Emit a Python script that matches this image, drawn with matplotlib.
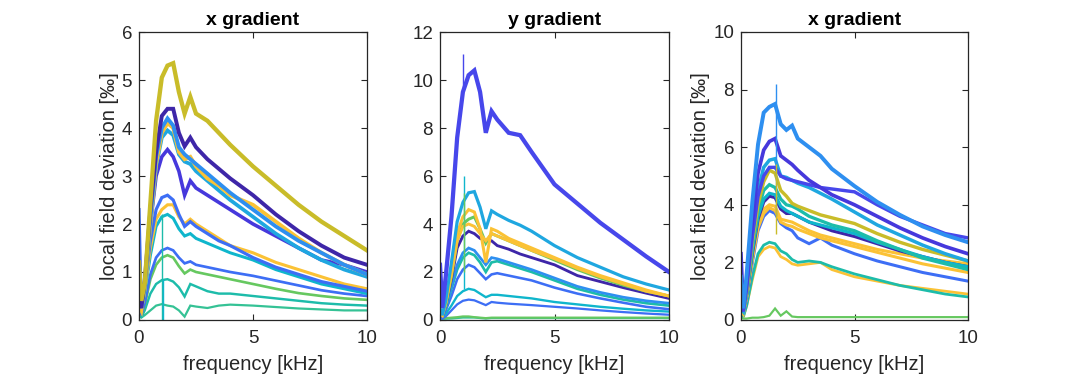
import matplotlib
matplotlib.use("Agg")
import matplotlib.pyplot as plt

plt.rcParams['font.family'] = ['Liberation Sans', 'DejaVu Sans']

# frequency grid (kHz) at which curve values were read
freq = [0, 0.1, 0.25, 0.5, 0.75, 1.0, 1.25, 1.5, 1.75, 2.0, 2.25, 2.5,
        3.0, 3.5, 4.0, 5.0, 6.0, 7.0, 8.0, 9.0, 10.0]

titles = ["x gradient", "y gradient", "x gradient"]
xlabel = "frequency [kHz]"
ylabel = "local field deviation [‰]"

# ---- panel 1 (x gradient) ----
p1_olive   = [1.2, 0.4, 0.75, 2.45, 4.15, 5.05, 5.3, 5.35, 4.75, 4.3, 4.65, 4.3, 4.15, 3.9, 3.65, 3.2, 2.8, 2.4, 2.05, 1.75, 1.45]
p1_purple  = [0.4, 0.25, 0.8, 2.3, 3.5, 4.25, 4.4, 4.4, 3.9, 3.62, 3.8, 3.6, 3.35, 3.15, 2.95, 2.6, 2.2, 1.85, 1.55, 1.3, 1.15]
p1_ltblue  = [0.5, 0.25, 0.7, 2.1, 3.4, 4.0, 4.2, 4.05, 3.6, 3.45, 3.35, 3.25, 3.05, 2.85, 2.65, 2.3, 1.95, 1.65, 1.4, 1.15, 0.95]
p1_cyblue  = [0.3, 0.2, 0.7, 2.0, 3.2, 3.8, 3.95, 3.85, 3.45, 3.3, 3.25, 3.1, 2.9, 2.7, 2.5, 2.15, 1.8, 1.5, 1.25, 1.05, 0.9]
p1_orange1 = [0.3, 0.2, 0.7, 2.0, 3.25, 3.9, 4.1, 4.0, 3.5, 3.35, 3.4, 3.2, 2.95, 2.8, 2.6, 2.4, 2.05, 1.7, 1.4, 1.15, 0.95]
p1_blue    = [0.5, 0.3, 0.8, 2.0, 3.0, 3.4, 3.55, 3.4, 3.1, 2.6, 2.9, 2.75, 2.6, 2.45, 2.3, 2.0, 1.75, 1.5, 1.25, 1.15, 1.0]
p1_royal   = [2.3, 0.3, 0.7, 1.65, 2.3, 2.55, 2.6, 2.5, 2.2, 1.95, 2.05, 1.95, 1.8, 1.65, 1.55, 1.3, 1.1, 0.95, 0.8, 0.7, 0.6]
p1_orange2 = [1.2, 0.2, 0.6, 1.5, 2.1, 2.3, 2.4, 2.4, 2.15, 2.0, 2.1, 2.0, 1.85, 1.7, 1.55, 1.4, 1.2, 1.05, 0.9, 0.75, 0.65]
p1_cyan    = [0.5, 0.2, 0.55, 1.35, 1.95, 2.15, 2.2, 2.12, 1.9, 1.75, 1.8, 1.7, 1.6, 1.5, 1.4, 1.25, 1.05, 0.9, 0.75, 0.65, 0.55]
p1_blue2   = [0.6, 0.1, 0.35, 0.95, 1.3, 1.45, 1.5, 1.45, 1.3, 1.18, 1.22, 1.15, 1.1, 1.05, 1.0, 0.92, 0.82, 0.72, 0.62, 0.55, 0.5]
p1_green   = [0.3, 0.1, 0.3, 0.85, 1.15, 1.3, 1.35, 1.3, 1.12, 0.97, 1.05, 1.0, 0.95, 0.9, 0.85, 0.75, 0.65, 0.56, 0.5, 0.45, 0.42]
p1_teal    = [0.2, 0.05, 0.2, 0.55, 0.75, 0.83, 0.85, 0.8, 0.68, 0.49, 0.75, 0.7, 0.6, 0.55, 0.55, 0.5, 0.45, 0.4, 0.35, 0.32, 0.3]
p1_tgreen  = [0.1, 0.05, 0.1, 0.2, 0.3, 0.33, 0.3, 0.28, 0.2, 0.07, 0.3, 0.28, 0.25, 0.3, 0.32, 0.3, 0.27, 0.24, 0.22, 0.2, 0.2]

# ---- panel 2 (y gradient) ----
p2_blue    = [2.3, 0.5, 1.8, 4.3, 7.6, 9.5, 10.2, 10.4, 9.5, 7.8, 8.7, 8.35, 7.8, 7.7, 7.0, 5.65, 4.85, 4.05, 3.35, 2.65, 2.0]
p2_cyblue  = [0.5, 0.2, 0.8, 2.4, 4.1, 4.9, 5.3, 5.35, 4.7, 3.8, 4.55, 4.4, 4.15, 3.95, 3.7, 3.1, 2.6, 2.2, 1.8, 1.5, 1.25]
p2_orange1 = [0.3, 0.2, 0.7, 2.0, 3.6, 4.3, 4.6, 4.5, 3.8, 2.4, 3.8, 3.7, 3.4, 3.2, 3.0, 2.6, 2.2, 1.85, 1.55, 1.25, 1.0]
p2_orange2 = [0.3, 0.2, 0.7, 1.9, 3.3, 3.9, 4.0, 3.9, 3.6, 3.3, 3.6, 3.5, 3.3, 3.1, 2.9, 2.55, 2.15, 1.8, 1.5, 1.2, 1.0]
p2_green   = [0.2, 0.2, 0.6, 1.8, 3.3, 4.0, 4.2, 4.3, 3.8, 3.2, 3.6, 3.5, 3.3, 3.1, 2.9, 2.5, 2.1, 1.75, 1.45, 1.2, 1.0]
p2_purple  = [0.3, 0.2, 0.6, 1.7, 3.0, 3.5, 3.7, 3.6, 3.4, 3.3, 3.3, 3.1, 2.95, 2.75, 2.6, 2.3, 1.85, 1.6, 1.35, 1.12, 0.9]
p2_ltblue  = [0.4, 0.2, 0.5, 1.4, 2.3, 2.8, 3.0, 2.9, 2.6, 2.3, 2.6, 2.55, 2.4, 2.25, 2.1, 1.75, 1.4, 1.15, 0.95, 0.8, 0.7]
p2_teal    = [0.3, 0.2, 0.5, 1.3, 2.1, 2.6, 2.8, 2.7, 2.4, 2.0, 2.4, 2.45, 2.3, 2.15, 2.0, 1.65, 1.3, 1.05, 0.85, 0.7, 0.6]
p2_royal   = [0.3, 0.1, 0.4, 1.0, 1.7, 2.1, 2.3, 2.2, 1.95, 1.7, 1.9, 1.95, 1.85, 1.75, 1.65, 1.35, 1.1, 0.9, 0.72, 0.55, 0.45]
p2_cyan    = [0.2, 0.1, 0.25, 0.6, 1.0, 1.2, 1.3, 1.25, 1.1, 0.95, 1.05, 1.05, 1.0, 0.95, 0.9, 0.75, 0.65, 0.55, 0.47, 0.4, 0.35]
p2_blue2   = [0.1, 0.05, 0.15, 0.4, 0.65, 0.8, 0.85, 0.82, 0.72, 0.62, 0.75, 0.72, 0.68, 0.65, 0.62, 0.55, 0.48, 0.4, 0.33, 0.27, 0.22]
p2_green2  = [0.1, 0.05, 0.08, 0.1, 0.12, 0.15, 0.15, 0.12, 0.1, 0.08, 0.1, 0.1, 0.1, 0.1, 0.1, 0.1, 0.1, 0.1, 0.1, 0.1, 0.1]
p2_tgreen  = [0.05, 0.03, 0.05, 0.06, 0.08, 0.1, 0.1, 0.1, 0.08, 0.06, 0.08, 0.08, 0.08, 0.08, 0.08, 0.08, 0.08, 0.08, 0.08, 0.08, 0.08]

# ---- panel 3 (x gradient) ----
p3_ltblue  = [1.5, 0.4, 1.6, 4.1, 6.1, 7.2, 7.4, 7.5, 6.8, 6.6, 6.75, 6.3, 6.0, 5.7, 5.25, 4.65, 4.1, 3.65, 3.25, 2.95, 2.7]
p3_purpleA = [2.3, 0.4, 1.3, 3.4, 5.1, 5.9, 6.2, 6.3, 5.7, 5.55, 5.4, 5.2, 4.85, 4.6, 4.35, 4.0, 3.6, 3.2, 2.85, 2.55, 2.3]
p3_blueB   = [0.5, 0.3, 1.1, 2.9, 4.3, 5.0, 5.3, 5.3, 5.0, 4.9, 4.85, 4.8, 4.7, 4.6, 4.55, 4.45, 4.0, 3.6, 3.3, 3.0, 2.85]
p3_cyblue  = [0.4, 0.3, 1.2, 3.0, 4.5, 5.3, 5.55, 5.6, 5.0, 4.95, 4.85, 4.75, 4.6, 4.4, 4.2, 3.75, 3.3, 2.95, 2.6, 2.3, 2.05]
p3_olive   = [0.5, 0.3, 1.0, 2.7, 4.0, 4.8, 5.2, 5.1, 4.5, 4.3, 4.05, 3.95, 3.8, 3.65, 3.55, 3.35, 3.0, 2.7, 2.45, 2.25, 2.05]
p3_teal    = [0.4, 0.3, 0.9, 2.5, 3.8, 4.5, 4.7, 4.6, 4.2, 4.0, 3.95, 3.85, 3.6, 3.45, 3.3, 3.1, 2.75, 2.45, 2.15, 1.95, 1.75]
p3_cyan    = [0.3, 0.3, 0.9, 2.4, 3.6, 4.2, 4.4, 4.35, 3.95, 3.8, 3.7, 3.6, 3.4, 3.3, 3.2, 3.0, 2.7, 2.45, 2.2, 2.0, 1.85]
p3_purple  = [0.3, 0.3, 0.9, 2.3, 3.5, 4.1, 4.3, 4.25, 3.85, 3.7, 3.7, 3.6, 3.4, 3.25, 3.1, 2.9, 2.65, 2.4, 2.2, 2.0, 1.85]
p3_orange1 = [1.2, 0.3, 0.8, 2.2, 3.3, 3.85, 4.0, 3.95, 3.5, 3.45, 3.4, 3.3, 3.1, 2.95, 2.85, 2.65, 2.45, 2.3, 2.15, 2.05, 1.95]
p3_orange2 = [0.3, 0.2, 0.8, 2.1, 3.2, 3.7, 3.9, 3.8, 3.4, 3.3, 3.25, 3.15, 3.0, 2.85, 2.75, 2.55, 2.35, 2.15, 1.95, 1.8, 1.65]
p3_royal   = [0.5, 0.2, 0.7, 2.0, 3.1, 3.6, 3.8, 3.7, 3.35, 3.2, 3.1, 2.85, 2.65, 2.85, 2.6, 2.3, 2.05, 1.85, 1.65, 1.5, 1.35]
p3_teal2   = [0.3, 0.1, 0.5, 1.5, 2.3, 2.6, 2.7, 2.65, 2.4, 2.3, 2.1, 2.0, 2.05, 2.0, 1.85, 1.6, 1.4, 1.2, 1.05, 0.9, 0.8]
p3_orange3 = [1.0, 0.1, 0.5, 1.4, 2.2, 2.45, 2.55, 2.5, 2.2, 2.1, 1.95, 1.9, 1.95, 2.0, 1.75, 1.5, 1.35, 1.2, 1.1, 1.0, 0.9]
p3_green   = [0.1, 0.05, 0.05, 0.08, 0.08, 0.1, 0.15, 0.4, 0.15, 0.3, 0.12, 0.1, 0.1, 0.1, 0.1, 0.1, 0.1, 0.1, 0.1, 0.1, 0.1]

# single-sample spikes: frequency, low and high value of the spike
p1_spike_f, p1_spike_lo, p1_spike_hi = [1.0, 1.05], [0.0, 0.0], [2.2, 0.85]
p2_spike_f, p2_spike_lo, p2_spike_hi = [1.02, 1.05, 1.05], [9.5, 1.3, 2.0], [11.1, 6.0, 5.3]
p3_spike_f, p3_spike_lo, p3_spike_hi = [1.53, 1.53], [3.6, 3.0], [8.2, 5.4]

# ---- colours ----
C = {
    'purple': '#3e26a8', 'blue': '#4638dc', 'bigblue': '#4747eb', 'royal': '#3d6ef5',
    'ltblue': '#2e8ff0', 'cyblue': '#1fa7e0', 'cyan': '#0fb6cc', 'teal': '#1dbcaa',
    'tgreen': '#35c295', 'green': '#66c860', 'olive': '#c9bc29', 'orange': '#fbc235',
}

panel1 = [(p1_tgreen, 'tgreen'), (p1_teal, 'teal'), (p1_green, 'green'), (p1_blue2, 'royal'),
          (p1_cyan, 'cyan'), (p1_orange2, 'orange'), (p1_royal, 'royal'), (p1_blue, 'blue'),
          (p1_cyblue, 'cyblue'), (p1_orange1, 'orange'), (p1_ltblue, 'ltblue'),
          (p1_purple, 'purple'), (p1_olive, 'olive')]
panel2 = [(p2_tgreen, 'tgreen'), (p2_green2, 'green'), (p2_blue2, 'royal'), (p2_cyan, 'cyan'),
          (p2_royal, 'royal'), (p2_teal, 'teal'), (p2_ltblue, 'ltblue'), (p2_purple, 'purple'),
          (p2_green, 'green'), (p2_orange2, 'orange'), (p2_orange1, 'orange'),
          (p2_cyblue, 'cyblue'), (p2_blue, 'bigblue')]
panel3 = [(p3_green, 'green'), (p3_orange3, 'orange'), (p3_teal2, 'teal'), (p3_royal, 'royal'),
          (p3_orange2, 'orange'), (p3_orange1, 'orange'), (p3_purple, 'purple'), (p3_cyan, 'cyan'),
          (p3_teal, 'teal'), (p3_olive, 'olive'), (p3_cyblue, 'cyblue'), (p3_blueB, 'bigblue'),
          (p3_purpleA, 'blue'), (p3_ltblue, 'ltblue')]
spikes = [
    (p1_spike_f, p1_spike_lo, p1_spike_hi, ['teal', 'cyan']),
    (p2_spike_f, p2_spike_lo, p2_spike_hi, ['bigblue', 'cyan', 'green']),
    (p3_spike_f, p3_spike_lo, p3_spike_hi, ['ltblue', 'olive']),
]

panels = [panel1, panel2, panel3]
ylims = [(0, 6), (0, 12), (0, 10)]
yticks = [list(range(0, 7)), list(range(0, 13, 2)), list(range(0, 11, 2))]
xticks = [0, 5, 10]

W, H = 1071, 379
fig = plt.figure(figsize=(W / 100, H / 100), dpi=100)
lefts = [139, 440, 741]
widths = [228, 229, 227]
top, bottom = 32, 320
txtc = '#262626'

for i in range(3):
    ax = fig.add_axes([lefts[i] / W, (H - bottom) / H, widths[i] / W, (bottom - top) / H])
    ymax = ylims[i][1]
    for vals, cname in panels[i]:
        # noisy measurement bands are wider for larger signals
        lw = 1.5 + 1.8 * max(vals[2:]) / ymax
        ax.plot(freq, vals, color=C[cname], lw=lw, solid_joinstyle='miter')
    sf, slo, shi, scol = spikes[i]
    ax.vlines(sf, slo, shi, colors=[C[c] for c in scol], lw=1.0)
    ax.set_xlim(0, 10)
    ax.set_ylim(*ylims[i])
    ax.set_xticks(xticks)
    ax.set_yticks(yticks[i])
    ax.tick_params(direction='in', length=4, width=0.8, top=True, right=True,
                   labelsize=13.5, colors=txtc)
    ax.tick_params(axis='x', pad=7)
    ax.tick_params(axis='y', pad=5)
    for s in ax.spines.values():
        s.set_color(txtc)
        s.set_linewidth(0.9)
    ax.set_title(titles[i], fontsize=14, fontweight='bold', color='black', pad=5)
    ax.set_xlabel(xlabel, fontsize=14.5, color=txtc, labelpad=6)
    if i != 1:
        ax.set_ylabel(ylabel, fontsize=14.5, color=txtc, labelpad=2)

fig.savefig('out.png', dpi=100)
